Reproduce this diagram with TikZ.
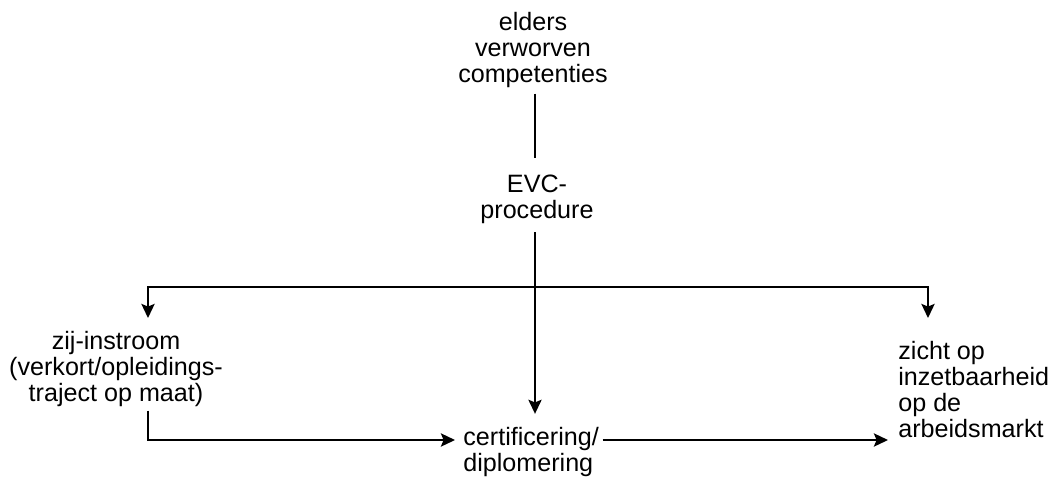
\documentclass[tikz,border=0pt]{standalone}
\usepackage{fontspec}
\setmainfont{Liberation Sans}
\usetikzlibrary{arrows.meta}
\tikzset{
  evcnode/.style={inner sep=2pt, align=center, font=\fontsize{14.3}{14.8}\selectfont},
  evcleft/.style={evcnode, align=left, anchor=west},
  link/.style={line width=1.25pt},
  arrow/.style={link, -{Stealth[length=8pt, width=7.5pt, inset=1.5pt]}}
}
\begin{document}
\begin{tikzpicture}[x=0.02cm, y=-0.02cm]
  \useasboundingbox (0,0) rectangle (1051,477);

  \node[evcnode] (elders) at (533,50) {elders\\verworven\\competenties};
  \node[evcnode] (evc) at (537,199) {EVC-\\procedure};
  \node[evcnode] (zij) at (116,369) {zij-instroom\\(verkort/opleidings-\\traject op maat)};
  \node[evcleft] (cert) at (459.5,452.4) {certificering/\\diplomering};
  \node[evcleft] (markt) at (894.5,390) {zicht op\\inzetbaarheid\\op de\\arbeidsmarkt};

  \coordinate (split) at (535,287);
  \coordinate (row) at (0,440);
  \coordinate (zijin) at (148,318);
  \coordinate (marktin) at (928,318);

  \draw[link, shorten <=0.04cm, shorten >=0.25cm] (elders.south -| split) -- (evc.north -| split);
  \draw[arrow, shorten <=0.1cm, shorten >=0.2cm] (evc.south -| split) -- (cert.north -| split);
  \draw[arrow] (split) -| (zijin);
  \draw[arrow] (split) -| (marktin);
  \draw[arrow, shorten >=0.09cm] (zij.south -| zijin) |- (cert.west |- row);
  \draw[arrow, shorten >=0.13cm] (cert.east |- row) -- (markt.west |- row);
\end{tikzpicture}
\end{document}
